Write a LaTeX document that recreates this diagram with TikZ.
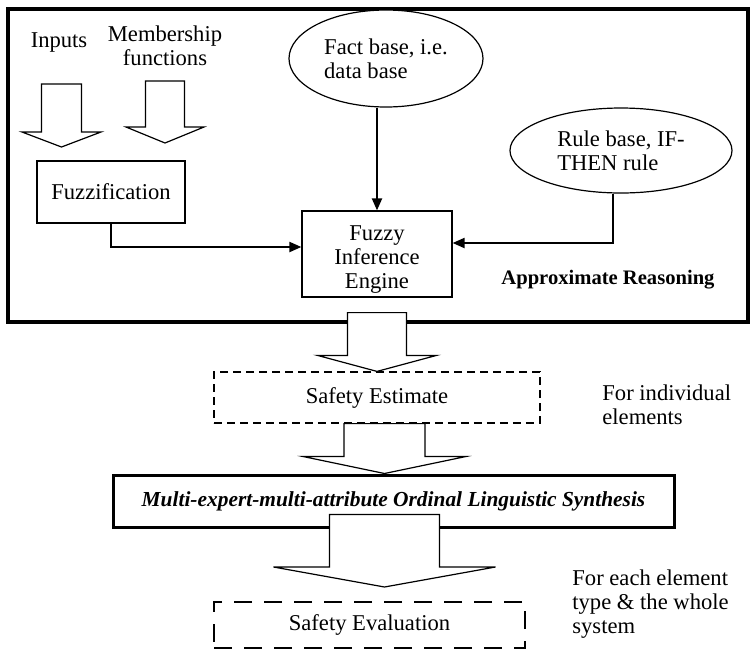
\documentclass[tikz,border=0pt]{standalone}
\usepackage{fontspec}
\setmainfont{Liberation Serif}
\usetikzlibrary{shapes.geometric,arrows.meta,calc}

\newcommand{\HollowArrow}[5]{%
  \draw[HollowStyle] ($(#2|-#1)+(-#3,0)$) -- ($(#2)+(-#3,-#5)$) -- ($(#2)+(-#4,-#5)$) -- (#2)
    -- ($(#2)+(#4,-#5)$) -- ($(#2)+(#3,-#5)$) -- ($(#2|-#1)+(#3,0)$) -- cycle;}

\begin{document}
\begin{tikzpicture}[x=0.5pt,y=-0.5pt]
\tikzset{BoxStyle/.style =
	{draw,
		line width = 0.6pt,
		fill = white,
		inner sep = 0pt,
		align = center},
	EllipseStyle/.style = {draw, ellipse, line width=0.6pt, fill=white, inner sep=0pt, align=left},
	TextStyle/.style = {inner sep=0pt},
	LinkStyle/.style = {line width=1pt, -{Triangle[length=6pt,width=5pt]}},
	HollowStyle/.style = {draw, line width=0.6pt, fill=white, line join=miter},
	every node/.style = {font=\fontsize{11.3}{12}\selectfont}}
\useasboundingbox (0,0) rectangle (752,650);

% approximate reasoning
\draw[line width=2pt] (8,9) rectangle (748,322);
\node[TextStyle] (inputs) at (59,42) {Inputs};
\node[TextStyle, align=center] (member) at (165,45.5) {Membership\\functions};
\node[BoxStyle, minimum width=74pt, minimum height=31pt] (fuzz) at (111,192) {Fuzzification};
\node[EllipseStyle, minimum width=97pt, minimum height=48.5pt] (fact) at (386,58.5) {Fact base, i.e.\\data base};
\node[EllipseStyle, minimum width=111pt, minimum height=42.5pt] (rule) at (621,150.5) {Rule base, IF-\\THEN rule};
\node[BoxStyle, minimum width=75pt, minimum height=43pt] (engine) at (377,254) {\rule{0pt}{12.5pt}Fuzzy\\Inference\\Engine};
\node[TextStyle, font=\bfseries\fontsize{10.3}{12}\selectfont] (approx) at (608,280) {Approximate Reasoning};

\coordinate (inAtop) at (61.5,84);
\coordinate (inAtip) at (61.5,147);
\coordinate (inBtop) at (165,81);
\coordinate (inBtip) at (165,143);
\HollowArrow{inAtop}{inAtip}{20}{39.5}{15}
\HollowArrow{inBtop}{inBtip}{19.5}{39}{16}

\draw[LinkStyle] (fact.south -| engine.north) -- (engine.north);
\draw[LinkStyle] (fuzz.south) |- ([yshift=3.5pt]engine.west);
\draw[LinkStyle] ([xshift=-4pt]rule.south) |- ([yshift=5.5pt]engine.east);

% estimate and synthesis
\node[BoxStyle, dash pattern=on 4pt off 2.5pt, minimum width=163pt, minimum height=25.5pt] (estimate) at (377,397.5) {Safety Estimate};
\node[TextStyle, align=left, anchor=west] (indiv) at (602,404.5) {For individual\\elements};
\node[BoxStyle, line width=1.5pt, minimum width=280.5pt, minimum height=26pt,
	font=\bfseries\itshape\fontsize{10.7}{12}\selectfont] (synth) at (393.5,501) {Multi-expert-multi-attribute Ordinal Linguistic Synthesis};
\node[BoxStyle, line width=1pt, dash pattern=on 9pt off 6pt, minimum width=155.5pt, minimum height=23pt] (evaluation) at (369.5,625) {Safety Evaluation};
\node[TextStyle, align=left, anchor=west] (each) at (572,604) {For each element\\type \& the whole\\system};

\coordinate (a1top) at ([yshift=-7.5pt]engine.south);
\coordinate (a2tip) at ([xshift=-4.5pt]synth.north);
\coordinate (a3top) at ([yshift=7pt]synth.south);
\coordinate (a3tip) at ($(a2tip |- evaluation.north)+(0,-14)$);
\HollowArrow{a1top}{estimate.north}{29.5}{59.5}{16}
\HollowArrow{estimate.south}{a2tip}{40.5}{81.5}{17}
\HollowArrow{a3top}{a3tip}{55}{111}{20}

\end{tikzpicture}
\end{document}
